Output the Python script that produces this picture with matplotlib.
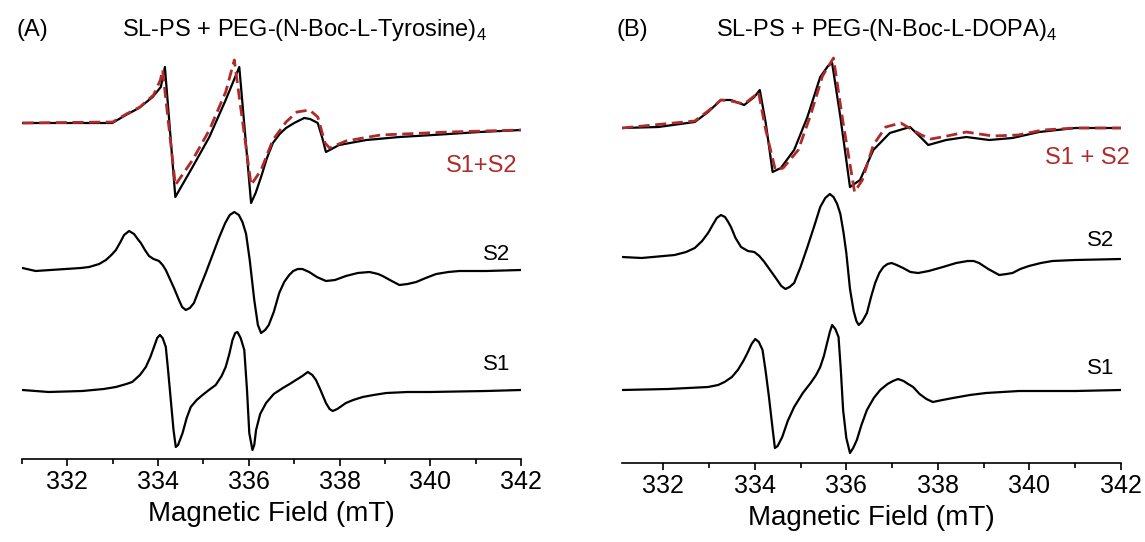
import matplotlib.pyplot as plt
from matplotlib.ticker import MultipleLocator

plt.rcParams['font.family'] = ['Liberation Sans', 'DejaVu Sans']
plt.rcParams['mathtext.fontset'] = 'custom'
plt.rcParams['mathtext.rm'] = 'Liberation Sans'

# ---- panel A: SL-PS + PEG-(N-Boc-L-Tyrosine)4, field in mT, signal in a.u. ----
a_exp_field = [331.01, 331.96, 332.99, 333.29, 333.58, 333.88, 334.06, 334.15, 334.38,
               334.76, 335.13, 335.49, 335.79, 336.05, 336.15, 336.27, 336.40, 336.53,
               336.68, 336.82, 337.00, 337.22, 337.35, 337.52, 337.62, 337.70, 337.99,
               338.59, 339.32, 340.06, 341.09, 342.0]
a_exp_signal = [0, 0, 0, 8, 15, 26, 36, 56, -74,
                -44, -14, 23, 56, -80, -70, -54, -35, -20,
                -11, -5, 0, 5, 4, 0, -15, -29, -22,
                -17, -14, -12, -9, -7]

a_fit_field = [331.01, 333.0, 333.3, 333.6, 333.9, 334.05, 334.1, 334.38, 334.76,
               335.13, 335.49, 335.68, 336.05, 336.27, 336.53, 336.82, 337.06, 337.34,
               337.52, 337.68, 337.78, 338.14, 338.9, 340.4, 342.0]
a_fit_signal = [0, 1, 9, 16, 28, 43, 53, -62, -37,
                -7, 31, 63, -62, -47, -17, 1, 11, 13,
                6, -20, -25, -18, -12, -9, -7]

a_s2_field = [331.01, 331.30, 331.96, 332.30, 332.48, 332.70, 332.85, 332.97, 333.07,
              333.17, 333.25, 333.36, 333.47, 333.55, 333.62, 333.71, 333.80, 333.90,
              334.02, 334.10, 334.17, 334.24, 334.35, 334.46, 334.53, 334.61, 334.70,
              334.79, 334.90, 335.05, 335.20, 335.35, 335.48, 335.58, 335.68, 335.78,
              335.86, 335.94, 336.02, 336.12, 336.20, 336.27, 336.36, 336.44, 336.55,
              336.67, 336.78, 336.89, 336.98, 337.08, 337.18, 337.33, 337.50, 337.70,
              337.90, 338.14, 338.40, 338.66, 338.85, 338.95, 339.15, 339.32, 339.50,
              339.69, 339.90, 340.13, 340.40, 340.64, 341.23, 342.0]
a_s2_signal = [2, -1, 1, 2, 3, 6, 10, 15, 20,
               28, 35, 39, 36, 31, 27, 20, 14, 11,
               9, 5, 0, -7, -18, -30, -37, -40, -38,
               -33, -20, -3, 15, 33, 47, 55, 58, 55,
               48, 36, 10, -30, -55, -63, -60, -55, -42,
               -23, -12, -5, -1, 1, 1, -2, -7, -11,
               -10, -6, -3, -2, -4, -6, -11, -15, -14,
               -12, -8, -4, -2, -1, -1, 0]

a_s1_field = [331.01, 331.59, 332.33, 332.80, 333.07, 333.30, 333.43, 333.60, 333.73,
              333.83, 333.91, 333.98, 334.04, 334.10, 334.17, 334.22, 334.28, 334.34,
              334.39, 334.44, 334.54, 334.63, 334.72, 334.85, 334.98, 335.12, 335.27,
              335.40, 335.49, 335.57, 335.64, 335.70, 335.75, 335.82, 335.90, 335.96,
              336.01, 336.08, 336.12, 336.16, 336.25, 336.38, 336.55, 336.75, 336.90,
              337.04, 337.18, 337.30, 337.40, 337.48, 337.58, 337.70, 337.78, 337.85,
              337.95, 338.14, 338.30, 338.51, 338.75, 339.03, 339.50, 339.98, 341.23,
              342.0]
a_s1_signal = [0, -2, -1, 1, 3, 6, 8, 15, 23,
               33, 43, 52, 55, 52, 43, 20, -10, -40,
               -57, -55, -43, -28, -17, -10, -5, 0, 5,
               14, 23, 36, 50, 57, 58, 52, 40, 0,
               -43, -60, -55, -40, -24, -13, -4, 2, 6,
               10, 14, 18, 15, 10, 0, -13, -19, -21,
               -19, -13, -10, -7, -5, -3, -2, -2, -1,
               0]

# ---- panel B: SL-PS + PEG-(N-Boc-L-DOPA)4 ----
b_exp_field = [331.10, 331.89, 332.69, 332.98, 333.26, 333.48, 333.77, 333.99, 334.11,
               334.24, 334.39, 334.57, 334.86, 335.15, 335.43, 335.60, 335.69, 335.87,
               336.08, 336.30, 336.59, 336.95, 337.39, 337.64, 337.79, 338.18, 338.62,
               339.12, 339.63, 340.21, 341.00, 342.0]
b_exp_signal = [0, 1, 6, 16, 28, 28, 23, 31, 38,
                5, -44, -40, -22, 11, 51, 62, 65, 11,
                -59, -52, -22, -5, 1, -10, -17, -12, -9,
                -12, -10, -4, 0, 0]

b_fit_field = [331.10, 332.69, 332.98, 333.26, 333.48, 333.77, 333.99, 334.08, 334.24,
               334.45, 334.62, 334.95, 335.22, 335.48, 335.72, 335.92, 336.18, 336.35,
               336.59, 336.86, 337.19, 337.64, 337.85, 338.2, 338.62, 339.2, 339.75,
               340.3, 341.0, 342.0]
b_fit_signal = [0, 7, 17, 28, 27, 24, 32, 36, -2,
                -42, -40, -22, 13, 52, 70, 8, -64, -52,
                -17, 1, 5, -7, -11, -8, -4, -8, -7,
                -2, 0, 0]

b_s2_field = [331.10, 331.53, 332.25, 332.50, 332.69, 332.85, 332.98, 333.08, 333.17,
              333.26, 333.35, 333.42, 333.48, 333.58, 333.70, 333.85, 333.99, 334.10,
              334.21, 334.35, 334.49, 334.58, 334.67, 334.76, 334.86, 335.00, 335.15,
              335.30, 335.43, 335.54, 335.64, 335.72, 335.80, 335.87, 335.94, 336.00,
              336.08, 336.16, 336.22, 336.27, 336.34, 336.45, 336.54, 336.63, 336.72,
              336.81, 336.90, 336.99, 337.10, 337.24, 337.40, 337.57, 337.80, 338.11,
              338.40, 338.65, 338.78, 338.90, 339.10, 339.34, 339.50, 339.63, 339.80,
              339.99, 340.25, 340.50, 341.00, 342.0]
b_s2_signal = [2, 1, 4, 7, 11, 18, 26, 34, 41,
               44, 42, 37, 32, 21, 12, 8, 7, 3,
               -3, -12, -21, -27, -30, -28, -24, -8, 12,
               33, 52, 61, 65, 62, 55, 45, 26, 6,
               -30, -52, -62, -66, -63, -54, -38, -24, -14,
               -8, -5, -4, -6, -9, -13, -14, -12, -8,
               -4, -2, -2, -4, -10, -16, -15, -14, -10,
               -7, -4, -2, -1, 0]

b_s1_field = [331.10, 332.11, 332.98, 333.20, 333.34, 333.50, 333.63, 333.75, 333.84,
              333.93, 334.01, 334.09, 334.17, 334.24, 334.31, 334.38, 334.44, 334.50,
              334.60, 334.72, 334.86, 335.05, 335.22, 335.34, 335.43, 335.51, 335.58,
              335.64, 335.69, 335.76, 335.83, 335.88, 335.93, 336.00, 336.08, 336.15,
              336.23, 336.33, 336.45, 336.60, 336.74, 336.90, 337.02, 337.13, 337.25,
              337.35, 337.46, 337.60, 337.75, 337.89, 338.10, 338.33, 338.70, 339.05,
              339.77, 341.00, 342.0]
b_s1_signal = [0, 1, 3, 5, 8, 13, 20, 29, 37,
               46, 51, 48, 40, 18, -7, -35, -58, -56,
               -47, -31, -17, -3, 7, 15, 23, 34, 47,
               58, 65, 61, 53, 20, -20, -48, -63, -58,
               -50, -35, -20, -8, 0, 6, 9, 11, 9,
               6, 3, -4, -9, -12, -10, -8, -5, -3,
               -1, -1, 0]

W, H = 1145, 542
fig = plt.figure(figsize=(W / 100, H / 100), dpi=100)

red = '#b02a2a'


def px(x, y):
    return x / W, 1 - y / H


def setup(ax, xmin, ymax):
    ax.set_xlim(xmin, 342)
    ax.set_ylim(0, ymax)
    for s in ['left', 'right', 'top']:
        ax.spines[s].set_visible(False)
    ax.spines['bottom'].set_linewidth(1.2)
    ax.set_yticks([])
    ax.xaxis.set_major_locator(MultipleLocator(2))
    ax.xaxis.set_minor_locator(MultipleLocator(1))
    ax.tick_params(axis='x', which='major', direction='out', length=5, width=1.2,
                   labelsize=18, pad=3)
    ax.tick_params(axis='x', which='minor', direction='out', length=3.5, width=1.2)
    ax.set_xlabel('Magnetic Field (mT)', fontsize=20, labelpad=5)


# panel A
axA = fig.add_axes([22 / W, 1 - 459 / H, (521 - 22) / W, 409 / H])
setup(axA, 331.0, 409)
axA.plot(a_exp_field, [v + 336 for v in a_exp_signal], color='black', lw=1.6)
axA.plot(a_fit_field, [v + 336 for v in a_fit_signal], color=red, lw=2.0,
         dashes=(4, 2))
axA.plot(a_s2_field, [v + 189 for v in a_s2_signal], color='black', lw=1.6)
axA.plot(a_s1_field, [v + 69 for v in a_s1_signal], color='black', lw=1.6)

# panel B
axB = fig.add_axes([622 / W, 1 - 463 / H, (1121 - 622) / W, 413 / H])
setup(axB, 331.1, 413)
axB.plot(b_exp_field, [v + 335 for v in b_exp_signal], color='black', lw=1.6)
axB.plot(b_fit_field, [v + 335 for v in b_fit_signal], color=red, lw=2.0,
         dashes=(4, 2))
axB.plot(b_s2_field, [v + 204 for v in b_s2_signal], color='black', lw=1.6)
axB.plot(b_s1_field, [v + 73 for v in b_s1_signal], color='black', lw=1.6)

# panel letters and titles
fig.text(*px(16, 30), '(A)', fontsize=17, va='center', ha='left')
fig.text(*px(122, 30), 'SL-PS + PEG-(N-Boc-L-Tyrosine)$_{4}$', fontsize=17,
         va='center', ha='left')
fig.text(*px(617, 30), '(B)', fontsize=17, va='center', ha='left')
fig.text(*px(716, 30), 'SL-PS + PEG-(N-Boc-L-DOPA)$_{4}$', fontsize=17,
         va='center', ha='left')

# trace labels
fig.text(*px(517, 166), 'S1+S2', fontsize=17, color=red, va='center', ha='right')
fig.text(*px(510, 255), 'S2', fontsize=16, va='center', ha='right')
fig.text(*px(510, 365), 'S1', fontsize=16, va='center', ha='right')
fig.text(*px(1130, 158), 'S1 + S2', fontsize=17, color=red, va='center', ha='right')
fig.text(*px(1114, 240), 'S2', fontsize=16, va='center', ha='right')
fig.text(*px(1114, 368), 'S1', fontsize=16, va='center', ha='right')

fig.savefig('out.png', dpi=100)
